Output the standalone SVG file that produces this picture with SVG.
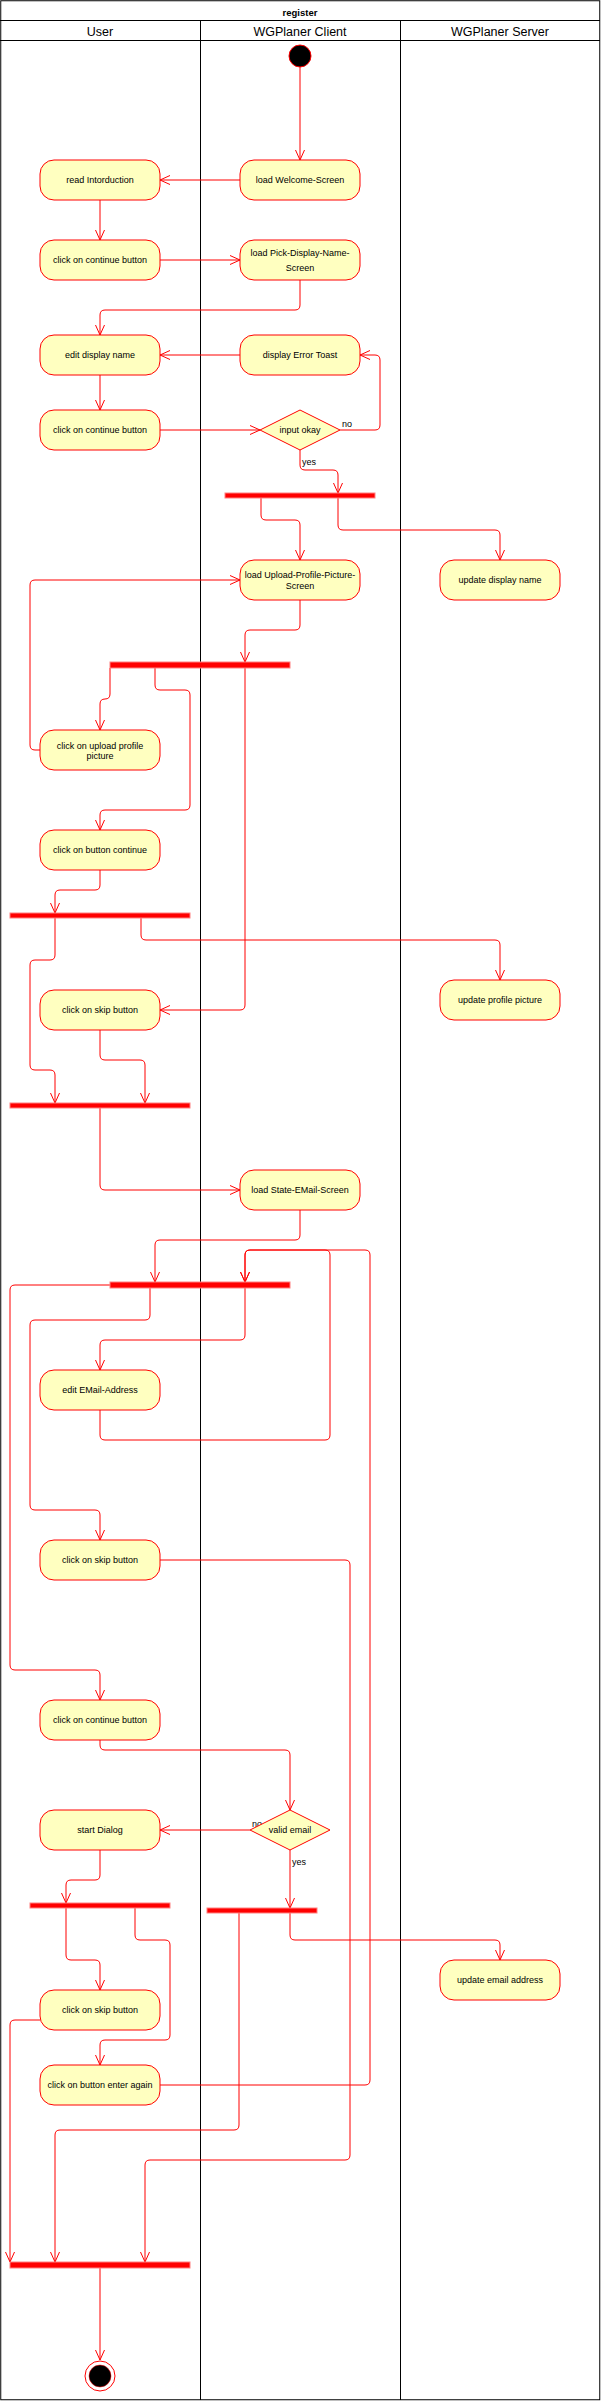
<svg xmlns="http://www.w3.org/2000/svg" width="601" height="2401" viewBox="0 0 601 2401">
<style>
.lane{fill:none;stroke:#000;stroke-width:1}
.act{fill:#FFFFC0;stroke:#FF0000;stroke-width:1}
.bar{fill:#FF0000;stroke:#FF8080;stroke-width:1}
.t{font-family:"Liberation Sans",Arial,sans-serif;font-size:9px;fill:#000;text-anchor:middle;dominant-baseline:central}
.lbl{font-family:"Liberation Sans",Arial,sans-serif;font-size:9px;fill:#000;dominant-baseline:central}
.h{font-family:"Liberation Sans",Arial,sans-serif;font-size:12.5px;fill:#000;text-anchor:middle;dominant-baseline:central}
.e{fill:none;stroke:#FF0000;stroke-width:1;marker-end:url(#arr)}
</style>
<defs>
<marker id="arr" markerUnits="userSpaceOnUse" viewBox="0 0 10 10" refX="10" refY="5" markerWidth="10" markerHeight="10" orient="auto">
<path d="M0,0.5 L10,5 L0,9.5" fill="none" stroke="#FF0000" stroke-width="1"/>
</marker>
</defs>
<rect width="601" height="2401" fill="#fff"/>
<g id="pool">
<rect class="lane" x="0.75" y="0.75" width="599" height="2399" stroke-width="1.5"/>
<line class="lane" x1="0" y1="20.5" x2="600" y2="20.5"/>
<line class="lane" x1="0" y1="40.5" x2="600" y2="40.5"/>
<line class="lane" x1="200.5" y1="20.5" x2="200.5" y2="2400"/>
<line class="lane" x1="400.5" y1="20.5" x2="400.5" y2="2400"/>
<text class="t" x="300" y="12" font-weight="bold" style="font-size:9.5px">register</text>
<text class="h" x="100" y="32">User</text>
<text class="h" x="300" y="32">WGPlaner Client</text>
<text class="h" x="500" y="32">WGPlaner Server</text>
</g>
<g id="connectors">
<path class="e" d="M300,67 V160"/>
<path class="e" d="M240,180 H160"/>
<path class="e" d="M100,200 V240"/>
<path class="e" d="M160,260 H240"/>
<path class="e" d="M300,280 V305 Q300,310 295,310 H105 Q100,310 100,315 V335"/>
<path class="e" d="M240,355 H160"/>
<path class="e" d="M100,375 V410"/>
<path class="e" d="M160,430 H260"/>
<path class="e" d="M340,430 H375 Q380,430 380,425 V360 Q380,355 375,355 H360"/>
<path class="e" d="M300,450 V465 Q300,470 305,470 H333 Q338,470 338,475 V493"/>
<path class="e" d="M261,498 V515 Q261,520 266,520 H295 Q300,520 300,525 V560"/>
<path class="e" d="M338,498 V525 Q338,530 343,530 H495 Q500,530 500,535 V560"/>
<path class="e" d="M300,600 V625 Q300,630 295,630 H250 Q245,630 245,635 V662"/>
<path class="e" d="M110,668 V694 Q110,699 105,699 Q100,699 100,704 V730"/>
<path class="e" d="M40,750 H35 Q30,750 30,745 V585 Q30,580 35,580 H240"/>
<path class="e" d="M155,668 V685 Q155,690 160,690 H185 Q190,690 190,695 V805 Q190,810 185,810 H105 Q100,810 100,815 V830"/>
<path class="e" d="M245,668 V1005 Q245,1010 240,1010 H160"/>
<path class="e" d="M100,870 V885 Q100,890 95,890 H60 Q55,890 55,895 V913"/>
<path class="e" d="M55,918 V955 Q55,960 50,960 H35 Q30,960 30,965 V1065 Q30,1070 35,1070 H50 Q55,1070 55,1075 V1103"/>
<path class="e" d="M141,918 V935 Q141,940 146,940 H495 Q500,940 500,945 V980"/>
<path class="e" d="M100,1030 V1055 Q100,1060 105,1060 H140 Q145,1060 145,1065 V1103"/>
<path class="e" d="M100,1108 V1185 Q100,1190 105,1190 H240"/>
<path class="e" d="M300,1210 V1235 Q300,1240 295,1240 H160 Q155,1240 155,1245 V1282"/>
<path class="e" d="M245,1288 V1335 Q245,1340 240,1340 H105 Q100,1340 100,1345 V1370"/>
<path class="e" d="M100,1410 V1435 Q100,1440 105,1440 H325 Q330,1440 330,1435 V1255 Q330,1250 325,1250 H250 Q245,1250 245,1255 V1282"/>
<path class="e" d="M160,2085 H365 Q370,2085 370,2080 V1255 Q370,1250 365,1250 H250 Q245,1250 245,1255 V1282"/>
<path class="e" d="M110,1285 H15 Q10,1285 10,1290 V1665 Q10,1670 15,1670 H95 Q100,1670 100,1675 V1700"/>
<path class="e" d="M150,1288 V1315 Q150,1320 145,1320 H35 Q30,1320 30,1325 V1505 Q30,1510 35,1510 H95 Q100,1510 100,1515 V1540"/>
<path class="e" d="M160,1560 H345 Q350,1560 350,1565 V2155 Q350,2160 345,2160 H150 Q145,2160 145,2165 V2262"/>
<path class="e" d="M100,1740 V1745 Q100,1750 105,1750 H285 Q290,1750 290,1755 V1810"/>
<path class="e" d="M250,1830 H160"/>
<path class="e" d="M290,1850 V1908"/>
<path class="e" d="M290,1913 V1935 Q290,1940 295,1940 H495 Q500,1940 500,1945 V1960"/>
<path class="e" d="M239,1913 V2125 Q239,2130 234,2130 H60 Q55,2130 55,2135 V2262"/>
<path class="e" d="M100,1850 V1875 Q100,1880 95,1880 H71 Q66,1880 66,1885 V1903"/>
<path class="e" d="M66,1908 V1955 Q66,1960 71,1960 H95 Q100,1960 100,1965 V1990"/>
<path class="e" d="M135,1908 V1935 Q135,1940 140,1940 H165 Q170,1940 170,1945 V2035 Q170,2040 165,2040 H105 Q100,2040 100,2045 V2065"/>
<path class="e" d="M40,2020 H15 Q10,2020 10,2025 V2262"/>
<path class="e" d="M100,2268 V2360"/>
<text class="lbl" x="342" y="424">no</text>
<text class="lbl" x="302" y="462">yes</text>
<rect x="252" y="1819" width="11" height="10" fill="#fff"/>
<text class="lbl" x="252" y="1824">no</text>
<text class="lbl" x="292" y="1862">yes</text>
</g>
<g id="start"><circle cx="300" cy="56" r="11" fill="#000" stroke="#FF0000"/></g>
<g id="welcome"><rect class="act" x="240" y="160" width="120" height="40" rx="14"/><text class="t" x="300" y="180">load Welcome-Screen</text></g>
<g id="intro"><rect class="act" x="40" y="160" width="120" height="40" rx="14"/><text class="t" x="100" y="180">read Intorduction</text></g>
<g id="cont1"><rect class="act" x="40" y="240" width="120" height="40" rx="14"/><text class="t" x="100" y="260">click on continue button</text></g>
<g id="pick"><rect class="act" x="240" y="240" width="120" height="40" rx="14"/><text class="t" x="300" y="253">load Pick-Display-Name-</text><text class="t" x="300" y="268">Screen</text></g>
<g id="editName"><rect class="act" x="40" y="335" width="120" height="40" rx="14"/><text class="t" x="100" y="355">edit display name</text></g>
<g id="toast"><rect class="act" x="240" y="335" width="120" height="40" rx="14"/><text class="t" x="300" y="355">display Error Toast</text></g>
<g id="cont2"><rect class="act" x="40" y="410" width="120" height="40" rx="14"/><text class="t" x="100" y="430">click on continue button</text></g>
<g id="dec1"><polygon class="act" points="260,430 300,410 340,430 300,450"/><text class="t" x="300" y="430">input okay</text></g>
<g id="fork1"><rect class="bar" x="225" y="493" width="150" height="5"/></g>
<g id="upload"><rect class="act" x="240" y="560" width="120" height="40" rx="14"/><text class="t" x="300" y="575">load Upload-Profile-Picture-</text><text class="t" x="300" y="585.5">Screen</text></g>
<g id="updName"><rect class="act" x="440" y="560" width="120" height="40" rx="14"/><text class="t" x="500" y="580">update display name</text></g>
<g id="fork2"><rect class="bar" x="110" y="662" width="180" height="6"/></g>
<g id="clickUpload"><rect class="act" x="40" y="730" width="120" height="40" rx="14"/><text class="t" x="100" y="745.5">click on upload profile</text><text class="t" x="100" y="755.5">picture</text></g>
<g id="btnCont"><rect class="act" x="40" y="830" width="120" height="40" rx="14"/><text class="t" x="100" y="850">click on button continue</text></g>
<g id="fork3"><rect class="bar" x="10" y="913" width="180" height="5"/></g>
<g id="updPic"><rect class="act" x="440" y="980" width="120" height="40" rx="14"/><text class="t" x="500" y="1000">update profile picture</text></g>
<g id="skip1"><rect class="act" x="40" y="990" width="120" height="40" rx="14"/><text class="t" x="100" y="1010">click on skip button</text></g>
<g id="join1"><rect class="bar" x="10" y="1103" width="180" height="5"/></g>
<g id="email"><rect class="act" x="240" y="1170" width="120" height="40" rx="14"/><text class="t" x="300" y="1190">load State-EMail-Screen</text></g>
<g id="fork5"><rect class="bar" x="110" y="1282" width="180" height="6"/></g>
<g id="editEmail"><rect class="act" x="40" y="1370" width="120" height="40" rx="14"/><text class="t" x="100" y="1390">edit EMail-Address</text></g>
<g id="skip2"><rect class="act" x="40" y="1540" width="120" height="40" rx="14"/><text class="t" x="100" y="1560">click on skip button</text></g>
<g id="cont3"><rect class="act" x="40" y="1700" width="120" height="40" rx="14"/><text class="t" x="100" y="1720">click on continue button</text></g>
<g id="dec2"><polygon class="act" points="250,1830 290,1810 330,1830 290,1850"/><text class="t" x="290" y="1830">valid email</text></g>
<g id="dialog"><rect class="act" x="40" y="1810" width="120" height="40" rx="14"/><text class="t" x="100" y="1830">start Dialog</text></g>
<g id="fork6"><rect class="bar" x="30" y="1903" width="140" height="5"/></g>
<g id="fork7"><rect class="bar" x="207" y="1908" width="110" height="5"/></g>
<g id="updEmail"><rect class="act" x="440" y="1960" width="120" height="40" rx="14"/><text class="t" x="500" y="1980">update email address</text></g>
<g id="skip3"><rect class="act" x="40" y="1990" width="120" height="40" rx="14"/><text class="t" x="100" y="2010">click on skip button</text></g>
<g id="again"><rect class="act" x="40" y="2065" width="120" height="40" rx="14"/><text class="t" x="100" y="2085">click on button enter again</text></g>
<g id="joinEnd"><rect class="bar" x="10" y="2262" width="180" height="6"/></g>
<g id="end"><circle cx="100" cy="2376" r="15" fill="#fff" stroke="#FF0000"/><circle cx="100" cy="2376" r="11" fill="#000" stroke="#FF0000" stroke-width="0.5"/></g>
</svg>
